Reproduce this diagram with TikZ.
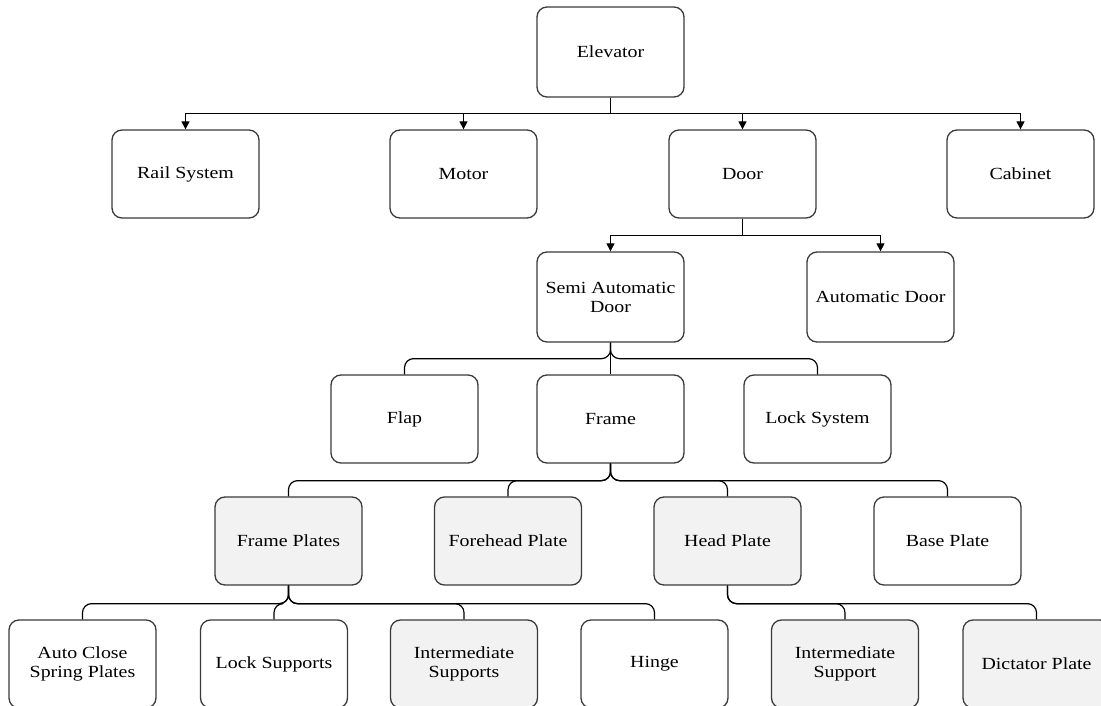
\documentclass[tikz,border=0pt]{standalone}
\usepackage{fontspec}
\setmainfont{Liberation Serif}[FakeStretch=1.17]
\usepackage{tikz}
\usetikzlibrary{arrows.meta}

\definecolor{boxline}{HTML}{3A3A3A}
\definecolor{boxfill}{HTML}{F2F2F2}

\begin{document}
\begin{tikzpicture}[x=1pt,y=-1pt,
        part/.style={draw=boxline, line width=1.3pt, rounded corners=10pt, fill=white,
            minimum width=147pt, minimum height=88pt, align=center,
            font=\fontsize{17}{19}\selectfont},
        subpart/.style={part, fill=boxfill},
        arr/.style={line width=1.2pt, -{Triangle[width=8pt,length=8pt]}},
        link/.style={line width=1.2pt, rounded corners=9pt}]
    \clip (0,0) rectangle (1101,706);
    % top levels
    \node[part, minimum height=90pt] (elev) at (610.5,52) {Elevator};
    \node[part] (rail)  at (185.5,174) {Rail System};
    \node[part] (motor) at (463.5,174) {Motor};
    \node[part] (door)  at (742.5,174) {Door};
    \node[part] (cab)   at (1020.5,174) {Cabinet};
    \node[part, minimum height=90pt] (semi) at (610.5,297) {Semi Automatic\\Door};
    \node[part, minimum height=90pt] (auto) at (880.5,297) {Automatic Door};
    % semi automatic door parts
    \node[part] (flap)  at (404.5,419) {Flap};
    \node[part] (frame) at (610.5,419) {Frame};
    \node[part] (lock)  at (817.5,419) {Lock System};
    % frame parts
    \node[subpart] (fplates) at (288.5,541) {Frame Plates};
    \node[subpart] (fore)    at (508,541)   {Forehead Plate};
    \node[subpart] (head)    at (727.5,541) {Head Plate};
    \node[part]    (base)    at (947.5,541) {Base Plate};
    % bottom row
    \node[part]    (acs)   at (82.5,664)  {Auto Close\\Spring Plates};
    \node[part]    (lsup)  at (274,664)   {Lock Supports};
    \node[subpart] (isups) at (464,664)   {Intermediate\\Supports};
    \node[part]    (hinge) at (654.5,664) {Hinge};
    \node[subpart] (isup)  at (845,664)   {Intermediate\\Support};
    \node[subpart] (dict)  at (1036.5,664) {Dictator Plate};

    \foreach \kid in {rail,motor,door,cab}
        \draw[arr] (elev.south) -- ++(0,16) -| (\kid.north);
    \foreach \kid in {semi,auto}
        \draw[arr] (door.south) -- ++(0,17) -| (\kid.north);
    \foreach \kid in {flap,frame,lock}
        \draw[link] (semi.south) -- ++(0,16) -| (\kid.north);
    \foreach \kid in {fplates,fore,head,base}
        \draw[link] (frame.south) -- ++(0,17) -| (\kid.north);
    \foreach \kid in {acs,lsup,isups,hinge}
        \draw[link] (fplates.south) -- ++(0,18) -| (\kid.north);
    \foreach \kid in {isup,dict}
        \draw[link] (head.south) -- ++(0,18) -| (\kid.north);
\end{tikzpicture}
\end{document}
